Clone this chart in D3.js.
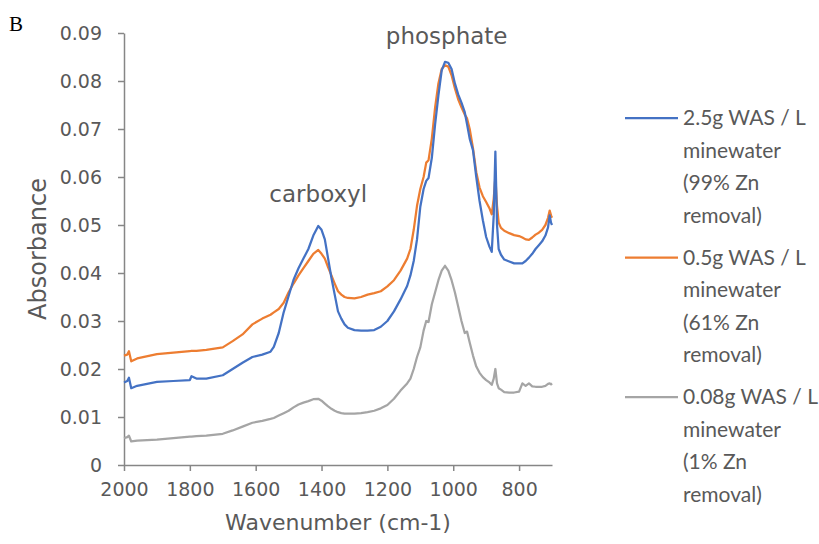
<!DOCTYPE html>
<html>
<head>
<meta charset="utf-8">
<script src="https://cdn.jsdelivr.net/npm/d3@7"></script>
<style>
  body { margin: 0; background: #fff; }
  .tick text { font-family: "DejaVu Sans", sans-serif; font-size: 19px; fill: #595959; }
  .axis-title { font-family: "DejaVu Sans", sans-serif; font-size: 22px; fill: #595959; }
  .note { font-family: "DejaVu Sans", sans-serif; font-size: 23px; fill: #595959; }
  .legend text { font-family: Lato, "Open Sans", sans-serif; font-size: 21px; fill: #595959; }
</style>
</head>
<body>
<div id="chart"></div>
<script>
// FTIR spectra, values
var wavenumbers = [2000, 1990, 1985, 1978, 1960, 1900, 1850, 1800, 1795, 1780, 1750, 1700, 1670, 1640, 1610, 1580, 1555, 1545, 1530, 1515,
  1500, 1485, 1470, 1455, 1440, 1425, 1410, 1400, 1390, 1380, 1370, 1360, 1350, 1340, 1330, 1320, 1300, 1280, 1260, 1240,
  1220, 1200, 1180, 1160, 1140, 1130, 1120, 1110, 1100, 1090, 1082, 1075, 1065, 1055, 1045, 1035, 1025, 1015, 1005, 995,
  985, 975, 965, 958, 950, 940, 930, 920, 910, 900, 890, 883, 877, 872, 867, 862, 855, 845, 830, 815,
  800, 790, 780, 770, 760, 750, 740, 730, 720, 712, 707, 703, 700];

var was25 = [0.0172, 0.0175, 0.0182, 0.0160, 0.0165, 0.0173, 0.0175, 0.0177, 0.0185, 0.0180, 0.0180, 0.0187, 0.0200, 0.0213, 0.0225, 0.0230, 0.0236, 0.0246, 0.0275, 0.0318,
  0.0352, 0.0386, 0.0410, 0.0430, 0.0450, 0.0478, 0.0498, 0.0490, 0.0470, 0.0430, 0.0390, 0.0355, 0.0320, 0.0305, 0.0293, 0.0286, 0.0281, 0.0280, 0.0280, 0.0281,
  0.0288, 0.0300, 0.0320, 0.0345, 0.0373, 0.0395, 0.0425, 0.0470, 0.0538, 0.0575, 0.0592, 0.0598, 0.0640, 0.0710, 0.0770, 0.0822, 0.0840, 0.0838, 0.0825, 0.0795,
  0.0772, 0.0755, 0.0735, 0.0710, 0.0680, 0.0656, 0.0600, 0.0550, 0.0510, 0.0475, 0.0455, 0.0444, 0.0520, 0.0653, 0.0500, 0.0450, 0.0438, 0.0428, 0.0424, 0.0420,
  0.0420, 0.0420, 0.0425, 0.0432, 0.0440, 0.0450, 0.0458, 0.0466, 0.0478, 0.0495, 0.0520, 0.0505, 0.0500];

var was05 = [0.0228, 0.0230, 0.0237, 0.0216, 0.0222, 0.0231, 0.0234, 0.0237, 0.0238, 0.0238, 0.0240, 0.0245, 0.0258, 0.0272, 0.0293, 0.0305, 0.0313, 0.0318, 0.0325, 0.0338,
  0.0360, 0.0378, 0.0395, 0.0410, 0.0425, 0.0440, 0.0448, 0.0440, 0.0430, 0.0412, 0.0395, 0.0378, 0.0362, 0.0355, 0.0350, 0.0348, 0.0347, 0.0350, 0.0355, 0.0358,
  0.0362, 0.0372, 0.0385, 0.0405, 0.0430, 0.0450, 0.0490, 0.0540, 0.0575, 0.0600, 0.0630, 0.0635, 0.0680, 0.0745, 0.0795, 0.0825, 0.0833, 0.0830, 0.0812, 0.0785,
  0.0762, 0.0745, 0.0730, 0.0722, 0.0700, 0.0660, 0.0610, 0.0578, 0.0560, 0.0548, 0.0535, 0.0522, 0.0555, 0.0600, 0.0540, 0.0505, 0.0494, 0.0488, 0.0483, 0.0479,
  0.0477, 0.0474, 0.0470, 0.0469, 0.0474, 0.0480, 0.0484, 0.0490, 0.0500, 0.0515, 0.0530, 0.0520, 0.0515];

var was008 = [0.0056, 0.0058, 0.0061, 0.0049, 0.0051, 0.0053, 0.0056, 0.0059, 0.0059, 0.0060, 0.0061, 0.0065, 0.0072, 0.0080, 0.0088, 0.0092, 0.0096, 0.0098, 0.0103, 0.0108,
  0.0113, 0.0120, 0.0126, 0.0130, 0.0133, 0.0137, 0.0138, 0.0134, 0.0128, 0.0122, 0.0117, 0.0113, 0.0110, 0.0108, 0.0107, 0.0107, 0.0107, 0.0108, 0.0110, 0.0113,
  0.0118, 0.0125, 0.0138, 0.0155, 0.0170, 0.0180, 0.0200, 0.0225, 0.0245, 0.0280, 0.0300, 0.0298, 0.0335, 0.0360, 0.0385, 0.0405, 0.0415, 0.0405, 0.0385, 0.0360,
  0.0330, 0.0300, 0.0275, 0.0278, 0.0255, 0.0228, 0.0205, 0.0192, 0.0183, 0.0177, 0.0172, 0.0167, 0.0180, 0.0200, 0.0170, 0.0160, 0.0157, 0.0152, 0.0151, 0.0151,
  0.0153, 0.0170, 0.0165, 0.0170, 0.0164, 0.0163, 0.0163, 0.0163, 0.0165, 0.0169, 0.0170, 0.0168, 0.0170];

var seriesNames = [
  ["2.5g WAS / L", "minewater", "(99% Zn", "removal)"],
  ["0.5g WAS / L", "minewater", "(61% Zn", "removal)"],
  ["0.08g WAS / L", "minewater", "(1% Zn", "removal)"]
];
var seriesColors = ["#4472C4", "#ED7D31", "#A5A5A5"];
var xTicks = [2000, 1800, 1600, 1400, 1200, 1000, 800];
var yTicks = [0, 0.01, 0.02, 0.03, 0.04, 0.05, 0.06, 0.07, 0.08, 0.09];
var peakLabels = [["phosphate", 1020, 0.0877], ["carboxyl", 1410, 0.0547]];

var width = 819, height = 544;
var margin = {top: 33, right: 267, bottom: 79, left: 124};

var svg = d3.select("#chart").append("svg")
  .attr("width", width)
  .attr("height", height);

var xScale = d3.scaleLinear()
  .domain([2000, 700])
  .range([margin.left, width - margin.right]);

var yScale = d3.scaleLinear()
  .domain([0, 0.09])
  .range([height - margin.bottom, margin.top]);

var xAxis = svg.append("g")
  .attr("transform", "translate(0," + (height - margin.bottom) + ")")
  .call(d3.axisBottom(xScale).tickValues(xTicks).tickSize(6).tickSizeOuter(0).tickPadding(12)
    .tickFormat(d3.format("d")));

var yAxis = svg.append("g")
  .attr("transform", "translate(" + margin.left + ",0)")
  .call(d3.axisLeft(yScale).tickValues(yTicks).tickSize(6).tickSizeOuter(0).tickPadding(16)
    .tickFormat(function(d) { return d === 0 ? "0" : d3.format(".2f")(d); }));

[xAxis, yAxis].forEach(function(ax) {
  ax.select(".domain").attr("stroke", "#868686").attr("stroke-width", 1.5);
  ax.selectAll(".tick line").attr("stroke", "#868686").attr("stroke-width", 1.5);
});

var line = d3.line()
  .x(function(d) { return xScale(d[0]); })
  .y(function(d) { return yScale(d[1]); });

var allSeries = [was25, was05, was008];

// grey first so blue/orange sit on top
[2, 1, 0].forEach(function(i) {
  var pts = wavenumbers.map(function(w, j) { return [w, allSeries[i][j]]; });
  svg.append("path")
    .datum(pts)
    .attr("fill", "none")
    .attr("stroke", seriesColors[i])
    .attr("stroke-width", 2.25)
    .attr("stroke-linejoin", "round")
    .attr("d", line);
});

svg.selectAll(".note")
  .data(peakLabels)
  .enter()
  .append("text")
  .attr("class", "note")
  .attr("text-anchor", "middle")
  .attr("x", function(d) { return xScale(d[1]); })
  .attr("y", function(d) { return yScale(d[2]); })
  .text(function(d) { return d[0]; });

svg.append("text")
  .attr("class", "axis-title")
  .attr("text-anchor", "middle")
  .attr("x", xScale(1350))
  .attr("y", 530)
  .text("Wavenumber (cm-1)");

svg.append("text")
  .attr("class", "axis-title")
  .attr("text-anchor", "middle")
  .attr("font-size", 24)
  .style("font-size", "24px")
  .attr("transform", "translate(46," + yScale(0.045) + ")rotate(-90)")
  .text("Absorbance");

svg.append("text")
  .attr("x", 9)
  .attr("y", 31)
  .attr("font-family", "'Liberation Serif', 'Times New Roman', serif")
  .attr("font-size", 21)
  .attr("fill", "#000")
  .text("B");

var legend = svg.append("g").attr("class", "legend")
  .selectAll("g")
  .data(seriesNames)
  .enter()
  .append("g")
  .attr("transform", function(d, i) { return "translate(625," + (118 + i * 139.5) + ")"; });

legend.append("line")
  .attr("x1", 0).attr("x2", 53)
  .attr("stroke", function(d, i) { return seriesColors[i]; })
  .attr("stroke-width", 2.25);

legend.selectAll("text")
  .data(function(d) { return d; })
  .enter()
  .append("text")
  .attr("x", 58)
  .attr("y", function(d, k) { return k * 32.5; })
  .attr("dy", "0.35em")
  .text(function(d) { return d; });
</script>
</body>
</html>
